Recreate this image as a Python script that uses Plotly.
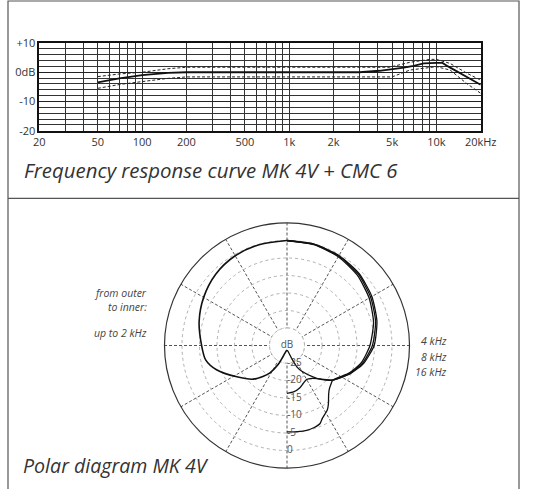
import numpy as np
import plotly.graph_objects as go

W, H = 540, 489

# ---------------- Frequency response (MK 4V + CMC 6) ----------------
FREQ_MAIN = [50, 70, 100, 150, 200, 500, 1000, 2000, 3000, 4100, 5000, 6000, 7000, 8200, 10000, 11000, 12000, 13700, 15300, 20000]
MAIN_DB = [-3.5, -2.1, -1.0, -0.2, 0.0, 0.0, 0.0, 0.0, 0.0, 0.5, 1.0, 1.6, 2.2, 3.0, 3.2, 3.2, 2.0, 0.4, -1.0, -4.3]
FREQ_UPPER = [50, 70, 100, 150, 200, 500, 1000, 2000, 4800, 6600, 9000, 10000, 12400, 16200, 20000]
UPPER_DB = [-1.5, -0.6, 0.0, 1.2, 1.7, 1.7, 1.7, 1.7, 1.7, 3.4, 4.4, 4.4, 3.0, -0.4, -2.7]
FREQ_LOWER = [50, 70, 100, 150, 200, 500, 1000, 2000, 5000, 6600, 10000, 12400, 16000, 20000]
LOWER_DB = [-5.5, -4.2, -3.2, -2.1, -1.6, -1.6, -1.6, -1.6, -1.6, 0.75, 1.9, 0.75, -3.8, -7.2]

X_TICKS = [20, 50, 100, 200, 500, 1000, 2000, 5000, 10000, 20000]
X_TICKTEXT = ["20", "50", "100", "200", "500", "1k", "2k", "5k", "10k", "20kHz"]
X_GRID = [30, 40, 60, 70, 80, 90, 300, 400, 600, 700, 800, 900,
          3000, 4000, 6000, 7000, 8000, 9000]
Y_TICKS = [10, 0, -10, -20]
Y_TICKTEXT = ["+10", "0dB", "-10", "-20"]

# ---------------- Polar diagram MK 4V ----------------
# angle from front (deg) and level (dB)
LF_ANGLE = [0, 15, 30, 45, 60, 75, 90, 100, 109, 122, 135, 142, 148, 155, 160, 170, 180]
LF_DB = [0, -0.1, -0.4, -1.2, -2.5, -4.0, -5.6, -6.4, -8.7, -13.1, -16.4, -18.8, -20.8, -24.0, -26.5, -28.3, -28.7]

HF4_ANGLE = [0, 15, 30, 45, 60, 75, 90, 103, 114, 127, 135, 140, 150, 155, 160, 170, 180]
HF4_DB = [0, 0.0, -0.3, -0.9, -2.0, -3.4, -5.1, -7.5, -10.2, -13.6, -16.3, -18.2, -21.5, -23.2, -26.0, -28.3, -28.7]

HF8_ANGLE = [0, 15, 30, 45, 60, 75, 90, 103, 114, 127, 135, 143, 150, 157, 163, 172, 180]
HF8_DB = [0, -0.1, -0.5, -1.2, -2.4, -3.8, -5.6, -7.8, -10.4, -13.6, -16.5, -18.2, -18.8, -18.2, -17.4, -16.6, -16.3]

HF16_ANGLE = [0, 15, 30, 45, 60, 75, 90, 103, 114, 127, 132, 137, 140, 145, 148, 154, 157, 162, 167, 173, 180]
HF16_DB = [-0.1, -0.2, -0.7, -1.6, -2.9, -4.4, -6.3, -8.2, -10.6, -13.6, -13.2, -12.4, -11.5, -9.4, -8.3, -6.9, -5.8, -5.3, -5.1, -5.2, -5.3]

RING_DB = [-25, -20, -15, -10, -5, 0]
RING_TEXT = ["-25", "-20", "-15", "-10", "-5", "0"]
R_RANGE = [-30, 5]


def px(x):
    return x / W


def py(y):
    return 1 - y / H


fig = go.Figure()

# frequency response traces
fig.add_trace(go.Scatter(x=FREQ_UPPER, y=UPPER_DB, mode="lines",
                         line=dict(color="#222", width=1, dash="3px,2px"),
                         xaxis="x", yaxis="y", showlegend=False, hoverinfo="skip"))
fig.add_trace(go.Scatter(x=FREQ_LOWER, y=LOWER_DB, mode="lines",
                         line=dict(color="#222", width=1, dash="3px,2px"),
                         xaxis="x", yaxis="y", showlegend=False, hoverinfo="skip"))
fig.add_trace(go.Scatter(x=FREQ_MAIN, y=MAIN_DB, mode="lines",
                         line=dict(color="#111", width=1.8),
                         xaxis="x", yaxis="y", showlegend=False, hoverinfo="skip"))

# polar: white centre disc forming the "dB" circle
disc_theta = np.linspace(0, 360, 121)
fig.add_trace(go.Scatterpolar(r=[RING_DB[0]] * len(disc_theta), theta=disc_theta,
                              mode="lines", fill="toself", fillcolor="white",
                              line=dict(color="#aaa", width=1, dash="dot"),
                              showlegend=False, hoverinfo="skip"))

fig.add_trace(go.Scatterpolar(r=LF_DB, theta=[-a for a in LF_ANGLE], mode="lines",
                              line=dict(color="#111", width=1.6, shape="spline", smoothing=0.8),
                              showlegend=False, hoverinfo="skip"))
fig.add_trace(go.Scatterpolar(r=HF4_DB, theta=HF4_ANGLE, mode="lines",
                              line=dict(color="#111", width=1.3, shape="spline", smoothing=0.6),
                              showlegend=False, hoverinfo="skip"))
fig.add_trace(go.Scatterpolar(r=HF8_DB, theta=HF8_ANGLE, mode="lines",
                              line=dict(color="#111", width=1.3, shape="spline", smoothing=0.6),
                              showlegend=False, hoverinfo="skip"))
fig.add_trace(go.Scatterpolar(r=HF16_DB, theta=HF16_ANGLE, mode="lines",
                              line=dict(color="#111", width=1.3, shape="spline", smoothing=0.6),
                              showlegend=False, hoverinfo="skip"))

# ring labels along the rear axis
fig.add_trace(go.Scatterpolar(r=RING_DB, theta=[180] * len(RING_DB), mode="text",
                              text=RING_TEXT, textposition="middle right",
                              textfont=dict(family="Open Sans", size=10, color="#555"),
                              showlegend=False, hoverinfo="skip"))
fig.add_trace(go.Scatterpolar(r=[R_RANGE[0]], theta=[0], mode="text", text=["dB"],
                              textposition="middle center",
                              textfont=dict(family="Open Sans", size=10, color="#555"),
                              showlegend=False, hoverinfo="skip"))

font_axis = dict(family="Open Sans", size=11, color="#333")

fig.update_layout(
    width=W, height=H, autosize=False,
    margin=dict(l=0, r=0, t=0, b=0, pad=0, autoexpand=False),
    paper_bgcolor="white", plot_bgcolor="white",
    xaxis=dict(type="log", domain=[px(39.3), px(480.7)],
               range=[np.log10(20), np.log10(20000)],
               tickmode="array", tickvals=X_TICKS, ticktext=X_TICKTEXT,
               tickfont=font_axis, ticks="", automargin=False,
               showgrid=True, gridcolor="#333", gridwidth=1,
               minor=dict(tickmode="array", tickvals=X_GRID, showgrid=True,
                          gridcolor="#333", gridwidth=1, ticks=""),
               showline=True, linecolor="#111", linewidth=1.5, mirror=True,
               zeroline=False, fixedrange=True, anchor="y"),
    yaxis=dict(domain=[py(130.7), py(43)], range=[-20, 10],
               tickmode="array", tickvals=Y_TICKS, ticktext=Y_TICKTEXT,
               tickfont=font_axis, ticks="", automargin=False,
               showgrid=True, gridcolor="#222", gridwidth=1.2,
               minor=dict(dtick=2, tick0=0, showgrid=True, gridcolor="#333",
                          gridwidth=0.9, ticks=""),
               showline=True, linecolor="#111", linewidth=1.5, mirror=True,
               zeroline=False, fixedrange=True, anchor="x"),
    polar=dict(
        domain=dict(x=[px(164.5), px(409.5)], y=[py(468), py(223)]),
        bgcolor="white",
        radialaxis=dict(range=R_RANGE, tickmode="array", tickvals=RING_DB,
                        showticklabels=False, ticks="", showline=False,
                        showgrid=True, gridcolor="#b0b0b0", gridwidth=1, griddash="dot",
                        layer="below traces"),
        angularaxis=dict(rotation=90, direction="clockwise", dtick=30,
                         showticklabels=False, ticks="",
                         showgrid=True, gridcolor="#555", gridwidth=1, griddash="3px,2px",
                         showline=True, linecolor="#333", linewidth=1.2,
                         layer="below traces"),
    ),
)

shapes = [
    dict(type="rect", xref="paper", yref="paper", x0=px(8), x1=px(519), y0=py(495), y1=py(1),
         line=dict(color="#555", width=1.2), fillcolor="rgba(0,0,0,0)", layer="above"),
    dict(type="line", xref="paper", yref="paper", x0=px(8), x1=px(519), y0=py(198.3), y1=py(198.3),
         line=dict(color="#555", width=1.2)),
]
fig.update_layout(shapes=shapes)

title_font_a = dict(family="Open Sans", size=20.4, color="#333", style="italic")
title_font_b = dict(family="Open Sans", size=19.6, color="#333", style="italic")
note_font = dict(family="Open Sans", size=10.5, color="#444", style="italic")
ann = [
    dict(text="Frequency response curve MK 4V + CMC 6", x=px(21.5), y=py(170),
         xanchor="left", yanchor="middle", font=title_font_a),
    dict(text="Polar diagram MK 4V", x=px(20.5), y=py(465),
         xanchor="left", yanchor="middle", font=title_font_b),
    dict(text="from outer", x=px(148.5), y=py(292.7), xanchor="right", yanchor="middle", font=note_font),
    dict(text="to inner:", x=px(148.5), y=py(307.3), xanchor="right", yanchor="middle", font=note_font),
    dict(text="up to 2 kHz", x=px(148.5), y=py(332.7), xanchor="right", yanchor="middle", font=note_font),
    dict(text="4 kHz", x=px(448.5), y=py(340.7), xanchor="right", yanchor="middle", font=note_font),
    dict(text="8 kHz", x=px(448.5), y=py(356.7), xanchor="right", yanchor="middle", font=note_font),
    dict(text="16 kHz", x=px(448.5), y=py(372.3), xanchor="right", yanchor="middle", font=note_font),
]
for a in ann:
    a.update(xref="paper", yref="paper", showarrow=False)
fig.update_layout(annotations=ann)

fig.write_html("out.html", config={"displayModeBar": False, "responsive": False},
               post_script="document.body.style.margin='0';document.body.style.overflow='hidden';")
